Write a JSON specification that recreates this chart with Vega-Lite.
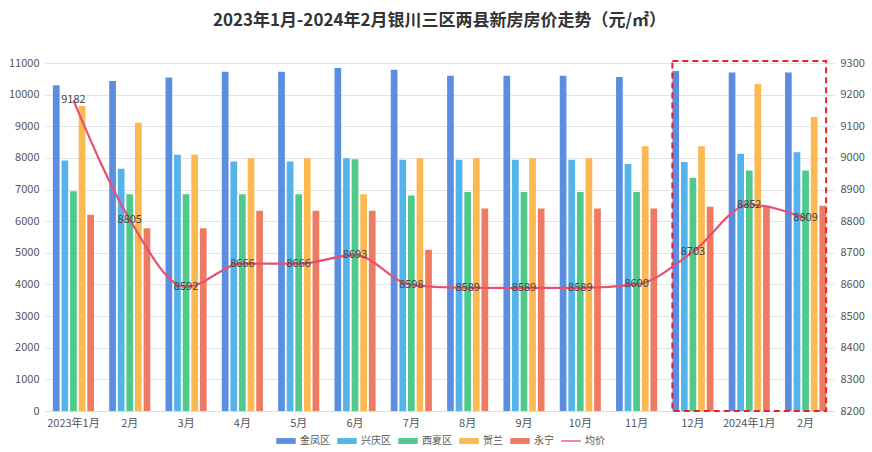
{
  "$schema": "https://vega.github.io/schema/vega-lite/v6.json",
  "width": 789,
  "height": 348,
  "padding": {"left": 8, "right": 5, "top": 12, "bottom": 4},
  "background": "white",
  "title": {
    "text": "2023年1月-2024年2月银川三区两县新房房价走势（元/㎡）",
    "fontSize": 17,
    "fontWeight": "bold",
    "color": "#333333",
    "font": "Noto Sans CJK SC",
    "anchor": "middle",
    "offset": 27
  },
  "config": {
    "view": {"stroke": null},
    "font": "Noto Sans CJK SC",
    "axis": {"labelColor": "#555555", "labelFontSize": 11, "titleFontSize": 11, "gridColor": "#e4e4e4", "domain": false, "ticks": false}
  },
  "datasets": {
    "bars": [
      {"月份": "2023年1月", "区域": "金凤区", "价格": 10300}, {"月份": "2023年1月", "区域": "兴庆区", "价格": 7920}, {"月份": "2023年1月", "区域": "西夏区", "价格": 6950}, {"月份": "2023年1月", "区域": "贺兰", "价格": 9640}, {"月份": "2023年1月", "区域": "永宁", "价格": 6200},
      {"月份": "2023年2月", "区域": "金凤区", "价格": 10430}, {"月份": "2023年2月", "区域": "兴庆区", "价格": 7660}, {"月份": "2023年2月", "区域": "西夏区", "价格": 6850}, {"月份": "2023年2月", "区域": "贺兰", "价格": 9110}, {"月份": "2023年2月", "区域": "永宁", "价格": 5780},
      {"月份": "2023年3月", "区域": "金凤区", "价格": 10540}, {"月份": "2023年3月", "区域": "兴庆区", "价格": 8100}, {"月份": "2023年3月", "区域": "西夏区", "价格": 6850}, {"月份": "2023年3月", "区域": "贺兰", "价格": 8100}, {"月份": "2023年3月", "区域": "永宁", "价格": 5780},
      {"月份": "2023年4月", "区域": "金凤区", "价格": 10720}, {"月份": "2023年4月", "区域": "兴庆区", "价格": 7890}, {"月份": "2023年4月", "区域": "西夏区", "价格": 6850}, {"月份": "2023年4月", "区域": "贺兰", "价格": 7990}, {"月份": "2023年4月", "区域": "永宁", "价格": 6330},
      {"月份": "2023年5月", "区域": "金凤区", "价格": 10720}, {"月份": "2023年5月", "区域": "兴庆区", "价格": 7890}, {"月份": "2023年5月", "区域": "西夏区", "价格": 6850}, {"月份": "2023年5月", "区域": "贺兰", "价格": 7990}, {"月份": "2023年5月", "区域": "永宁", "价格": 6330},
      {"月份": "2023年6月", "区域": "金凤区", "价格": 10840}, {"月份": "2023年6月", "区域": "兴庆区", "价格": 7990}, {"月份": "2023年6月", "区域": "西夏区", "价格": 7960}, {"月份": "2023年6月", "区域": "贺兰", "价格": 6850}, {"月份": "2023年6月", "区域": "永宁", "价格": 6330},
      {"月份": "2023年7月", "区域": "金凤区", "价格": 10790}, {"月份": "2023年7月", "区域": "兴庆区", "价格": 7940}, {"月份": "2023年7月", "区域": "西夏区", "价格": 6810}, {"月份": "2023年7月", "区域": "贺兰", "价格": 7990}, {"月份": "2023年7月", "区域": "永宁", "价格": 5100},
      {"月份": "2023年8月", "区域": "金凤区", "价格": 10600}, {"月份": "2023年8月", "区域": "兴庆区", "价格": 7940}, {"月份": "2023年8月", "区域": "西夏区", "价格": 6920}, {"月份": "2023年8月", "区域": "贺兰", "价格": 7990}, {"月份": "2023年8月", "区域": "永宁", "价格": 6400},
      {"月份": "2023年9月", "区域": "金凤区", "价格": 10600}, {"月份": "2023年9月", "区域": "兴庆区", "价格": 7940}, {"月份": "2023年9月", "区域": "西夏区", "价格": 6920}, {"月份": "2023年9月", "区域": "贺兰", "价格": 7990}, {"月份": "2023年9月", "区域": "永宁", "价格": 6400},
      {"月份": "2023年10月", "区域": "金凤区", "价格": 10600}, {"月份": "2023年10月", "区域": "兴庆区", "价格": 7940}, {"月份": "2023年10月", "区域": "西夏区", "价格": 6920}, {"月份": "2023年10月", "区域": "贺兰", "价格": 7990}, {"月份": "2023年10月", "区域": "永宁", "价格": 6400},
      {"月份": "2023年11月", "区域": "金凤区", "价格": 10560}, {"月份": "2023年11月", "区域": "兴庆区", "价格": 7810}, {"月份": "2023年11月", "区域": "西夏区", "价格": 6920}, {"月份": "2023年11月", "区域": "贺兰", "价格": 8370}, {"月份": "2023年11月", "区域": "永宁", "价格": 6400},
      {"月份": "2023年12月", "区域": "金凤区", "价格": 10750}, {"月份": "2023年12月", "区域": "兴庆区", "价格": 7870}, {"月份": "2023年12月", "区域": "西夏区", "价格": 7370}, {"月份": "2023年12月", "区域": "贺兰", "价格": 8370}, {"月份": "2023年12月", "区域": "永宁", "价格": 6460},
      {"月份": "2024年1月", "区域": "金凤区", "价格": 10700}, {"月份": "2024年1月", "区域": "兴庆区", "价格": 8130}, {"月份": "2024年1月", "区域": "西夏区", "价格": 7600}, {"月份": "2024年1月", "区域": "贺兰", "价格": 10340}, {"月份": "2024年1月", "区域": "永宁", "价格": 6490},
      {"月份": "2024年2月", "区域": "金凤区", "价格": 10700}, {"月份": "2024年2月", "区域": "兴庆区", "价格": 8180}, {"月份": "2024年2月", "区域": "西夏区", "价格": 7600}, {"月份": "2024年2月", "区域": "贺兰", "价格": 9290}, {"月份": "2024年2月", "区域": "永宁", "价格": 6490}
    ],
    "avg": [
      {"月份": "2023年1月", "均价": 9182}, {"月份": "2023年2月", "均价": 8805}, {"月份": "2023年3月", "均价": 8592},
      {"月份": "2023年4月", "均价": 8666}, {"月份": "2023年5月", "均价": 8666}, {"月份": "2023年6月", "均价": 8693},
      {"月份": "2023年7月", "均价": 8598}, {"月份": "2023年8月", "均价": 8589}, {"月份": "2023年9月", "均价": 8589},
      {"月份": "2023年10月", "均价": 8589}, {"月份": "2023年11月", "均价": 8600}, {"月份": "2023年12月", "均价": 8703},
      {"月份": "2024年1月", "均价": 8852}, {"月份": "2024年2月", "均价": 8809}
    ],
    "box": [
      {"起": "2023年12月", "止": "2024年2月", "下": 0, "上": 11060}
    ]
  },
  "layer": [
    {
      "data": {"name": "bars"},
      "mark": {"type": "bar"},
      "encoding": {
        "x": {
          "field": "月份", "type": "nominal", "sort": null, "title": null,
          "scale": {"paddingInner": 0.27, "paddingOuter": 0.14},
          "axis": {"labelAngle": 0, "labelPadding": 6, "domain": true, "domainColor": "#dddddd", "labelExpr": "indexof(datum.value, '年1月') > 0 ? datum.value : substring(datum.value, 5)"}
        },
        "xOffset": {"field": "区域", "type": "nominal", "sort": ["金凤区", "兴庆区", "西夏区", "贺兰", "永宁"], "scale": {"paddingInner": 0.22}},
        "y": {
          "field": "价格", "type": "quantitative", "title": null,
          "scale": {"domain": [0, 11000], "nice": false},
          "axis": {"values": [0, 1000, 2000, 3000, 4000, 5000, 6000, 7000, 8000, 9000, 10000, 11000], "format": "d", "labelPadding": 6, "orient": "left"}
        },
        "color": {
          "field": "区域", "type": "nominal",
          "scale": {"domain": ["金凤区", "兴庆区", "西夏区", "贺兰", "永宁", "均价"], "range": ["#5b8ee0", "#54b4e9", "#4fc98c", "#fcb851", "#ef7a64", "#e65172"]},
          "legend": {
            "title": null, "orient": "none", "direction": "horizontal", "legendX": 231, "legendY": 368,
            "labelFontSize": 10, "labelColor": "#555555", "columnPadding": 7, "symbolSize": 380,
            "symbolStrokeWidth": 0, "labelOffset": 4,
            "symbolType": {"expr": "datum.value === '均价' ? 'M-1,-0.07L1,-0.07L1,0.07L-1,0.07Z' : 'M-1,-0.3L1,-0.3L1,0.3L-1,0.3Z'"}
          }
        }
      }
    },
    {
      "data": {"name": "box"},
      "mark": {"type": "rect", "fill": null, "stroke": "#e8222b", "strokeWidth": 2, "strokeDash": [6, 4], "clip": false},
      "encoding": {
        "x": {"field": "起", "type": "nominal", "sort": null, "bandPosition": 0},
        "x2": {"field": "止", "bandPosition": 1},
        "y": {"field": "下", "type": "quantitative", "scale": {"domain": [0, 11000], "nice": false}, "axis": null},
        "y2": {"field": "上"}
      }
    },
    {
      "data": {"name": "avg"},
      "mark": {"type": "line", "interpolate": "monotone", "strokeWidth": 2.2},
      "encoding": {
        "x": {"field": "月份", "type": "nominal", "sort": null},
        "y": {
          "field": "均价", "type": "quantitative", "title": null,
          "scale": {"domain": [8200, 9300], "nice": false, "zero": false},
          "axis": {"orient": "right", "grid": false, "format": "d", "values": [8200, 8300, 8400, 8500, 8600, 8700, 8800, 8900, 9000, 9100, 9200, 9300], "labelPadding": 6}
        },
        "color": {"datum": "均价"}
      }
    },
    {
      "data": {"name": "avg"},
      "mark": {"type": "text", "fontSize": 11, "color": "#444444", "align": "center", "baseline": "middle"},
      "encoding": {
        "x": {"field": "月份", "type": "nominal", "sort": null},
        "y": {"field": "均价", "type": "quantitative", "scale": {"domain": [8200, 9300], "nice": false, "zero": false}, "axis": null},
        "text": {"field": "均价", "type": "quantitative", "format": "d"}
      }
    }
  ],
  "resolve": {"scale": {"y": "independent"}}
}
